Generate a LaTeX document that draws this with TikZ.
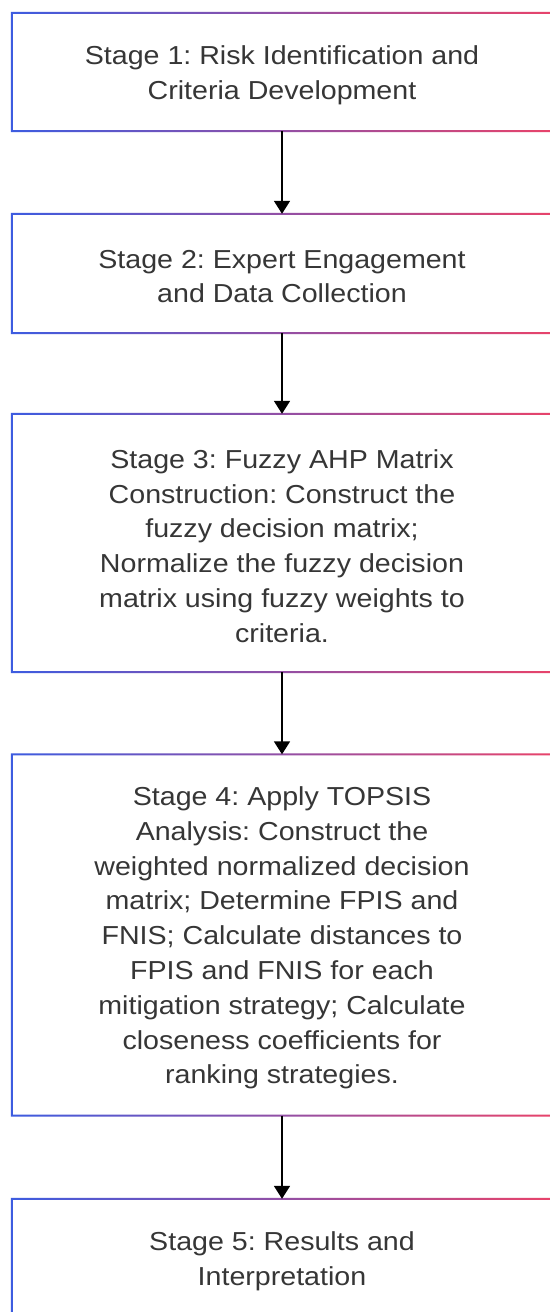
\documentclass[tikz,border=0pt]{standalone}
\usepackage{fontspec}
\setmainfont{Liberation Sans}[FakeStretch=1.1]
\usetikzlibrary{arrows.meta}
\definecolor{bblue}{HTML}{3D5CE0}
\definecolor{bred}{HTML}{E8436A}
\definecolor{txtgray}{HTML}{363636}
% the text sits 3pt below the box centre: the border is the node frame raised by 3pt
\newcommand\stageborder[1]{%
  \shade[left color=bblue,right color=bred,even odd rule]
    ([shift={(-1,2)}]#1.south west) rectangle ([shift={(1,4)}]#1.north east)
    ([shift={(1,4)}]#1.south west) rectangle ([shift={(-1,2)}]#1.north east);}
\begin{document}
\frenchspacing
\begin{tikzpicture}[x=1pt,y=1pt,
  stagebox/.style={minimum width=540pt, inner sep=0pt, align=center, text=txtgray,
    font=\fontsize{26}{34.8}\selectfont\frenchspacing},
  flow/.style={line width=1.8pt, -{Triangle[width=16pt,length=13pt]}}]
\useasboundingbox[fill=white] (0,0) rectangle (549,-1312);
\node[stagebox, minimum height=118pt] (s1) at (282,-75) {Stage 1: Risk Identification and\\Criteria Development};
\node[stagebox, minimum height=119pt] (s2) at (282,-276.5) {Stage 2: Expert Engagement\\and Data Collection};
\node[stagebox, minimum height=258pt] (s3) at (282,-546) {Stage 3: Fuzzy AHP Matrix\\Construction: Construct the\\fuzzy decision matrix;\\Normalize the fuzzy decision\\matrix using fuzzy weights to\\criteria.};
\node[stagebox, minimum height=361pt] (s4) at (282,-938) {Stage 4: Apply TOPSIS\\Analysis: Construct the\\weighted normalized decision\\matrix; Determine FPIS and\\FNIS; Calculate distances to\\FPIS and FNIS for each\\mitigation strategy; Calculate\\closeness coefficients for\\ranking strategies.};
\node[stagebox, minimum height=118pt] (s5) at (282,-1261) {Stage 5: Results and\\Interpretation};
\stageborder{s1}
\stageborder{s2}
\stageborder{s3}
\stageborder{s4}
\stageborder{s5}
\draw[flow] ([yshift=3pt]s1.south) -- ([yshift=3pt]s2.north);
\draw[flow] ([yshift=3pt]s2.south) -- ([yshift=3pt]s3.north);
\draw[flow] ([yshift=3pt]s3.south) -- ([yshift=3pt]s4.north);
\draw[flow] ([yshift=3pt]s4.south) -- ([yshift=3pt]s5.north);
\end{tikzpicture}
\end{document}
